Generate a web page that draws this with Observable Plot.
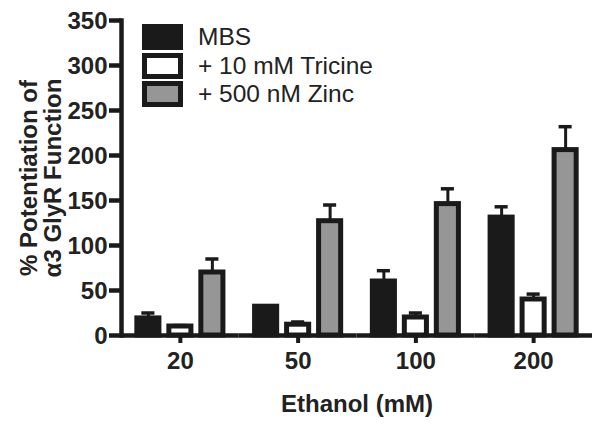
<!DOCTYPE html>
<html><head><meta charset="utf-8">
<script src="https://cdn.jsdelivr.net/npm/d3@7"></script>
<script src="https://cdn.jsdelivr.net/npm/@observablehq/plot@0.6"></script>
<style>
body{margin:0;background:#fff;}
#wrap{position:relative;width:601px;height:427px;}
.legend{position:absolute;left:142px;top:23px;font-family:"Liberation Sans",Arial,sans-serif;font-size:24.5px;color:#222;}
.row{display:flex;align-items:center;height:28.5px;}
.sw{width:41px;height:26px;box-sizing:border-box;margin-right:15px;border:5px solid #1a1a1a;}
</style></head><body><div id="wrap"></div>
<script>
const doses = ["20", "50", "100", "200"];
const series = ["MBS", "+ 10 mM Tricine", "+ 500 nM Zinc"];
const mbs = [19, 32, 60, 131];
const mbsErr = [6, 1, 12, 12];
const tricine = [10, 12, 20, 40];
const tricineErr = [1, 3, 5, 6];
const zinc = [70, 127, 146, 206];
const zincErr = [15, 18, 17, 26];
const yTicks = [0, 50, 100, 150, 200, 250, 300, 350];
const fills = ["#1a1a1a", "#ffffff", "#969696"];
const ink = "#1a1a1a";

const values = [mbs, tricine, zinc];
const errs = [mbsErr, tricineErr, zincErr];
const data = [];
doses.forEach((d, i) => series.forEach((s, j) => {
  data.push({dose: d, series: s, value: values[j][i], err: errs[j][i], top: values[j][i] + errs[j][i]});
}));

const chart = Plot.plot({
  width: 601, height: 427,
  marginLeft: 121, marginRight: 9, marginTop: 20, marginBottom: 92,
  style: {fontFamily: "'Liberation Sans', Arial, sans-serif", fontSize: "24px", fontWeight: "bold", color: "#222", background: "#fff"},
  fx: {domain: doses, padding: 0, round: false},
  x: {domain: series, paddingInner: 0.31, paddingOuter: 0.495, round: false, axis: null},
  y: {domain: [0, 350], axis: null},
  color: {domain: series, range: fills},
  marks: [
    Plot.ruleX(data, {fx: "dose", x: "series", y1: "value", y2: "top", stroke: ink, strokeWidth: 3}),
    Plot.tickY(data, {fx: "dose", x: "series", y: "top", stroke: ink, strokeWidth: 3.5, inset: 4.5}),
    Plot.barY(data, {fx: "dose", x: "series", y: "value", fill: "series", stroke: ink, strokeWidth: 5}),
    Plot.ruleY([0], {stroke: ink, strokeWidth: 4.5}),
    Plot.frame({anchor: "left", facetAnchor: "left", stroke: ink, strokeWidth: 4.5}),
    Plot.axisY({ticks: yTicks, tickSize: 12, tickPadding: 2, strokeWidth: 4.5, stroke: ink, lineHeight: 1.12,
      label: "% Potentiation of\nα3 GlyR Function", labelAnchor: "center", labelArrow: "none", labelOffset: 102}),
    Plot.axisFx({anchor: "bottom", tickSize: 8, tickPadding: 8, strokeWidth: 4, stroke: ink,
      label: "Ethanol (mM)", labelAnchor: "center", labelArrow: "none", labelOffset: 76})
  ]
});
const wrap = document.getElementById("wrap");
wrap.appendChild(chart);

const legend = document.createElement("div");
legend.className = "legend";
series.forEach((s, j) => {
  const row = document.createElement("div");
  row.className = "row";
  const sw = document.createElement("div");
  sw.className = "sw";
  sw.style.background = fills[j];
  const t = document.createElement("span");
  t.textContent = s;
  row.appendChild(sw); row.appendChild(t);
  legend.appendChild(row);
});
wrap.appendChild(legend);
</script></body></html>
